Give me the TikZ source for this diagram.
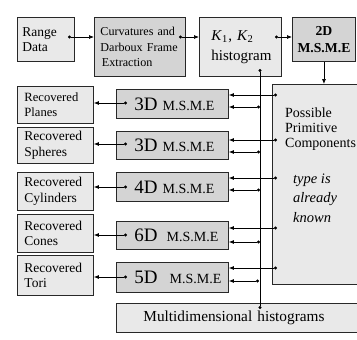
\documentclass[tikz,border=0pt]{standalone}
\usepackage{fontspec}
\setmainfont{Liberation Serif}
\usetikzlibrary{arrows.meta}

\definecolor{boxlight}{RGB}{233,233,233}
\definecolor{boxdark}{RGB}{212,212,212}
\definecolor{edge}{RGB}{40,40,40}

\newcommand{\msme}[2]{\hbox{{\fontsize{19}{20}\selectfont #1}\hspace{#2}{\fontsize{14}{15}\selectfont M.S.M.E}}}

\begin{document}
\begin{tikzpicture}[x=1pt,y=-1pt,
  basebox/.style={draw=edge, line width=0.9pt, anchor=north west,
    inner ysep=0pt, align=left},
  lightbox/.style={basebox, fill=boxlight},
  darkbox/.style={basebox, fill=boxdark},
  dotarrow/.style={draw=black, line width=0.7pt,
    {Circle[length=3pt]}-{Latex[length=5pt,width=4pt]}},
  dotline/.style={draw=black, line width=0.8pt,
    {Circle[length=3pt]}-{Circle[length=3pt]}},
  plainarrow/.style={draw=black, line width=0.7pt,
    -{Latex[length=5pt,width=4pt]}},
  fRange/.style={font=\fontsize{13.5}{15}\selectfont},
  fRec/.style={font=\fontsize{13.5}{15.5}\selectfont},
]
\useasboundingbox (0,0) rectangle (357,340);
\clip (0,0) rectangle (357,340);

% top row
\node[lightbox, fRange, minimum width=57, minimum height=44, inner xsep=5,
  text width=47] (range) at (17,17) {Range\\Data};
\node[darkbox, font=\fontsize{12.1}{15.5}\selectfont, minimum width=91,
  minimum height=59, inner xsep=6, text width=79] (curv) at (94,17)
  {Curvatures~and\\Darboux~Frame\\\hspace{1.5pt}Extraction};
\node[lightbox, font=\fontsize{15}{20}\selectfont, minimum width=82,
  minimum height=59, inner xsep=12, text width=58] (khist) at (199,17)
  {\textit{K}\textsubscript{1}\kern0.5pt, \textit{K}\textsubscript{2}\\histogram};
\node[darkbox, font=\fontsize{13.7}{17}\selectfont\bfseries, minimum width=63,
  minimum height=44, inner xsep=2, text width=59, align=center] (twod) at (292,17)
  {2D\\M.S.M.E};

% recovered primitives
\node[lightbox, font=\fontsize{12.6}{15}\selectfont, minimum width=76,
  minimum height=37, inner xsep=7, text width=62] (planes) at (17,86)
  {Recovered\\Planes};
\node[lightbox, fRec, minimum width=76, minimum height=36, inner xsep=7,
  text width=62] (spheres) at (17,127) {Recovered\\Spheres};
\node[lightbox, fRec, minimum width=76, minimum height=38, inner xsep=7,
  text width=62] (cyl) at (17,172) {Recovered\\Cylinders};
\node[lightbox, fRec, minimum width=76, minimum height=38, inner xsep=7,
  text width=62] (cones) at (17,214) {Recovered\\Cones};
\node[lightbox, fRec, minimum width=76, minimum height=40, inner xsep=7,
  text width=62] (tori) at (17,255) {Recovered\\Tori};

% estimators
\node[darkbox, minimum width=112, minimum height=29, inner xsep=18,
  text width=76] (m1) at (116,89) {\msme{3D}{5pt}};
\node[darkbox, minimum width=112, minimum height=28, inner xsep=18,
  text width=76] (m2) at (116,131) {\msme{3D}{5pt}};
\node[darkbox, minimum width=112, minimum height=29, inner xsep=18,
  text width=76] (m3) at (116,172) {\msme{4D}{5pt}};
\node[darkbox, minimum width=112, minimum height=28, inner xsep=18,
  text width=76] (m4) at (116,221) {\msme{6D}{9pt}};
\node[darkbox, minimum width=112, minimum height=30, inner xsep=18,
  text width=76] (m5) at (116,262) {\msme{5D}{12pt}};

% right column
\node[lightbox, minimum width=110, minimum height=200] (poss) at (272,84) {};
\node[anchor=base west, inner sep=0, align=left,
  font=\fontsize{14}{15}\selectfont] (posstext) at (285,147)
  {Possible\\Primitive\\Components};
\node[anchor=base west, inner sep=0, align=left,
  font=\fontsize{14.5}{19.5}\selectfont\itshape] (typetext) at (293,222)
  {type is\\already\\known};

\node[lightbox, font=\fontsize{15.3}{17}\selectfont, minimum width=270,
  minimum height=29, inner xsep=27, text width=216] (multi) at (116,303)
  {Multidimensional histograms};

% top chain
\coordinate (c1) at (68,37);
\coordinate (c2) at (179,37);
\coordinate (c3) at (275,37);
\draw[dotarrow] (c1) -- (curv.west |- c1);
\draw[dotarrow] (c2) -- (khist.west |- c2);
\draw[dotarrow] (c3) -- (twod.west |- c3);
\draw[plainarrow] (twod.south) -- (poss.north -| twod.south);

% histogram bus
\coordinate (vtop) at (260,69);
\coordinate (vbot) at (260,309);
\draw[dotline] (vtop) -- (vbot);

% estimators to recovered primitives
\coordinate (l1) at (127,103);
\coordinate (l2) at (127,144);
\coordinate (l3) at (127,187);
\coordinate (l4) at (127,235);
\coordinate (l5) at (127,277);
\draw[dotarrow] (l1) -- (planes.east |- l1);
\draw[dotarrow] (l2) -- (spheres.east |- l2);
\draw[dotarrow] (l3) -- (cyl.east |- l3);
\draw[dotarrow] (l4) -- (cones.east |- l4);
\draw[dotarrow] (l5) -- (tori.east |- l5);

% primitive components to estimators
\coordinate (u1) at (277,95);
\coordinate (u2) at (277,140);
\coordinate (u3) at (277,178);
\coordinate (u4) at (277,228);
\coordinate (u5) at (277,268);
\draw[dotarrow] (u1) -- (m1.east |- u1);
\draw[dotarrow] (u2) -- (m2.east |- u2);
\draw[dotarrow] (u3) -- (m3.east |- u3);
\draw[dotarrow] (u4) -- (m4.east |- u4);
\draw[dotarrow] (u5) -- (m5.east |- u5);

% histogram bus to estimators
\coordinate (h1) at (260,107);
\coordinate (h2) at (260,152);
\coordinate (h3) at (260,190);
\coordinate (h4) at (260,242);
\coordinate (h5) at (259,281);
\draw[dotarrow] (h1) -- (m1.east |- h1);
\draw[dotarrow] (h2) -- (m2.east |- h2);
\draw[dotarrow] (h3) -- (m3.east |- h3);
\draw[dotarrow] (h4) -- (m4.east |- h4);
\draw[dotarrow] (h5) -- (m5.east |- h5);
\end{tikzpicture}
\end{document}
